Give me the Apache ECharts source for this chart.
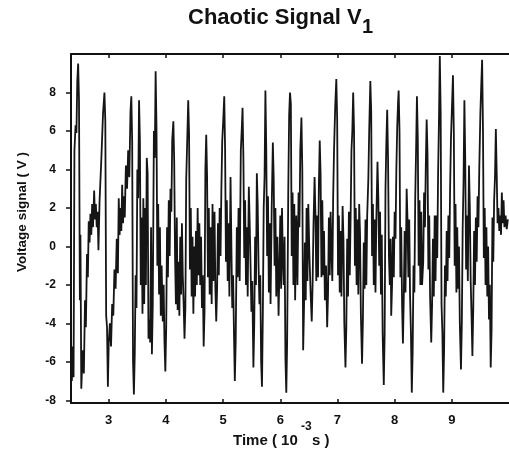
<!DOCTYPE html>
<html>
<head>
<meta charset="utf-8">
<script src="https://cdn.jsdelivr.net/npm/echarts@6/dist/echarts.min.js"></script>
<style>html,body{margin:0;padding:0;background:#fff;}#c{width:509px;height:458px;}</style>
</head>
<body>
<div id="c"></div>
<script>
// Time in units of 10^-3 s
const times = [
2.34,2.355,2.37,2.385,2.40,2.42,2.435,2.45,2.465,2.48,2.495,2.505,2.52,2.545,2.565,2.585,2.60,2.62,2.635,2.65,
2.665,2.68,2.695,2.71,2.725,2.745,2.76,2.775,2.79,2.805,2.82,2.84,2.87,2.90,2.925,2.94,2.955,2.97,2.985,3.00,
3.02,3.04,3.06,3.08,3.10,3.12,3.14,3.16,3.175,3.19,3.205,3.22,3.235,3.25,3.265,3.28,3.30,3.32,3.34,3.36,
3.38,3.395,3.41,3.425,3.44,3.455,3.47,3.485,3.50,3.515,3.53,3.545,3.56,3.575,3.59,3.605,3.62,3.635,3.65,3.665,
3.68,3.695,3.71,3.725,3.74,3.755,3.77,3.79,3.805,3.82,3.835,3.85,3.865,3.88,3.895,3.91,3.925,3.945,3.96,3.975,
3.99,4.005,4.02,4.035,4.05,4.065,4.08,4.095,4.11,4.13,4.145,4.16,4.175,4.19,4.205,4.22,4.235,4.25,4.265,4.28,
4.295,4.31,4.325,4.34,4.355,4.37,4.39,4.405,4.42,4.435,4.45,4.465,4.48,4.495,4.51,4.525,4.54,4.555,4.57,4.585,
4.60,4.615,4.63,4.645,4.66,4.675,4.69,4.705,4.72,4.735,4.75,4.765,4.78,4.80,4.815,4.83,4.85,4.865,4.88,4.895,
4.91,4.925,4.94,4.955,4.97,4.985,5.00,5.02,5.035,5.05,5.065,5.08,5.095,5.11,5.13,5.145,5.16,5.175,5.19,5.205,
5.22,5.24,5.255,5.27,5.29,5.31,5.325,5.34,5.355,5.37,5.385,5.40,5.415,5.43,5.45,5.465,5.48,5.495,5.51,5.53,
5.545,5.56,5.575,5.59,5.605,5.62,5.635,5.65,5.665,5.68,5.695,5.71,5.725,5.74,5.755,5.77,5.785,5.80,5.815,5.83,
5.85,5.87,5.885,5.90,5.915,5.93,5.95,5.97,5.985,6.00,6.015,6.03,6.045,6.06,6.075,6.09,6.105,6.12,6.14,6.155,
6.17,6.185,6.20,6.215,6.23,6.245,6.26,6.28,6.30,6.32,6.335,6.35,6.37,6.385,6.40,6.415,6.43,6.445,6.46,6.475,
6.49,6.51,6.53,6.55,6.565,6.58,6.60,6.615,6.63,6.645,6.66,6.675,6.69,6.705,6.72,6.735,6.75,6.765,6.78,6.80,
6.82,6.835,6.85,6.865,6.88,6.895,6.91,6.925,6.94,6.96,6.98,6.995,7.01,7.025,7.04,7.055,7.07,7.09,7.105,7.12,
7.14,7.155,7.17,7.185,7.20,7.215,7.23,7.245,7.26,7.275,7.29,7.305,7.32,7.335,7.35,7.365,7.38,7.395,7.41,7.43,
7.445,7.46,7.475,7.49,7.505,7.52,7.54,7.555,7.575,7.59,7.605,7.62,7.635,7.65,7.665,7.68,7.70,7.715,7.73,7.745,
7.76,7.775,7.79,7.81,7.825,7.84,7.855,7.87,7.885,7.90,7.915,7.93,7.94,7.955,7.97,7.985,8.00,8.015,8.03,8.045,
8.06,8.07,8.085,8.10,8.115,8.13,8.145,8.16,8.175,8.19,8.21,8.225,8.24,8.255,8.27,8.285,8.30,8.315,8.33,8.345,
8.36,8.375,8.39,8.405,8.42,8.435,8.45,8.465,8.48,8.50,8.515,8.53,8.545,8.56,8.575,8.59,8.605,8.62,8.64,8.655,
8.67,8.685,8.70,8.715,8.73,8.745,8.76,8.775,8.79,8.805,8.82,8.835,8.85,8.865,8.88,8.895,8.91,8.925,8.94,8.955,
8.97,8.985,9.00,9.02,9.035,9.05,9.065,9.08,9.095,9.11,9.125,9.14,9.16,9.175,9.19,9.205,9.22,9.235,9.25,9.265,
9.28,9.30,9.315,9.33,9.345,9.36,9.375,9.39,9.405,9.42,9.435,9.45,9.465,9.48,9.50,9.515,9.53,9.545,9.56,9.575,
9.59,9.605,9.62,9.635,9.65,9.665,9.68,9.695,9.71,9.725,9.74,9.755,9.77,9.785,9.80,9.815,9.83,9.845,9.86,9.875,
9.89,9.905,9.92,9.94,9.96,9.98
];
// Voltage signal (V)
const volts = [
-5.6,-7.0,-5.2,-6.8,5.0,6.3,5.9,8.6,9.5,7.6,-2.8,0.6,-7.4,-5.4,-6.6,-2.8,-4.2,-0.4,-1.6,1.3,
0.2,1.7,0.6,2.2,1.0,2.9,1.4,2.2,1.0,1.8,-0.2,2.4,4.5,6.9,8.0,6.5,-3.6,-4.2,-7.3,-5.0,
-4.0,-5.2,-3.0,-3.6,-1.2,-2.2,0.4,-1.4,2.5,0.6,2.0,0.8,3.2,1.2,2.6,1.5,4.2,3.0,5.0,3.6,
7.0,7.8,5.4,-6.0,-7.7,-5.6,-1.5,-3.2,4.0,2.5,7.6,5.5,-2.0,1.5,-3.5,2.5,-3.0,2.0,-2.0,4.6,
3.8,-4.8,-3.8,-5.0,1.0,-5.6,-3.0,6.0,4.6,9.1,6.2,-1.0,2.2,-2.5,1.0,-3.6,-1.0,-3.9,-2.0,-5.0,
-6.5,-4.2,1.0,-1.6,2.4,-0.5,3.0,1.8,5.5,6.5,4.4,-0.6,-3.0,1.5,-3.3,-0.8,-3.6,0.5,-2.5,1.2,
-1.5,-3.0,-4.8,-3.2,3.5,5.2,7.6,5.8,-1.2,2.0,-2.6,0.5,-3.5,0.0,-2.6,0.8,-2.0,2.0,-1.5,1.2,
-2.0,0.5,-3.2,-1.5,-5.2,-3.4,4.0,5.8,3.6,-1.6,2.0,-2.5,1.0,-3.0,2.2,-1.8,1.8,-2.2,-3.9,-2.2,
1.2,-1.5,2.0,-0.5,3.0,5.5,6.4,7.8,5.0,-0.8,2.4,-1.8,1.2,-2.6,3.6,0.0,-3.2,-1.5,-4.5,-7.0,
-5.0,1.0,-1.6,2.0,-1.8,5.0,6.0,7.2,4.6,-0.6,2.4,-2.0,1.0,-2.6,3.1,1.2,-1.0,-3.4,-1.8,-6.3,
-4.0,0.5,-2.0,3.8,2.2,-1.0,-3.0,-1.5,-6.0,-7.3,-3.5,2.0,3.6,8.1,5.0,-0.5,2.6,-2.4,1.2,-3.0,
2.0,5.4,3.5,-1.0,2.0,-2.6,0.5,-3.6,-1.2,1.6,-2.2,2.0,-0.6,-2.0,0.5,-5.8,-7.6,-5.0,3.0,6.8,
8.0,7.4,-0.5,2.8,-2.0,2.2,-2.8,1.6,-2.0,2.8,1.0,5.0,6.7,4.0,-5.4,-3.2,0.2,-2.8,2.0,-1.8,
2.2,-0.5,-2.4,-3.9,-2.0,1.0,3.6,1.6,-1.8,1.6,-1.6,3.2,5.5,3.8,-1.6,2.4,-1.5,0.8,-2.8,-1.0,
-4.2,-2.5,1.5,-1.5,1.8,-0.2,-1.8,2.6,5.0,7.2,8.7,6.6,-1.5,1.6,-2.4,0.8,-2.6,2.1,0.4,-4.0,
-6.3,-4.2,0.4,-2.6,1.8,-1.5,1.5,5.0,6.0,8.0,6.0,-1.0,2.0,-2.0,1.4,-2.5,2.2,0.6,-3.6,-6.1,
-3.8,0.2,-2.2,1.4,-2.0,1.6,3.5,6.0,8.6,7.0,-0.5,2.2,-2.0,1.4,-2.4,1.4,4.4,2.5,-1.0,1.8,
-2.5,0.6,-4.5,-7.2,-4.6,3.0,5.4,7.1,4.5,-0.5,-2.0,0.4,-3.6,-2.0,0.5,-1.6,1.8,0.4,4.0,6.2,
7.5,8.1,6.0,-1.6,1.0,-3.0,-5.05,-2.6,0.8,-2.4,3.0,1.4,-1.6,1.4,-2.6,-4.5,-7.6,-5.5,-1.0,-2.4,
2.5,5.0,7.8,5.6,-1.0,2.4,-2.0,1.8,-2.0,-0.8,2.8,1.0,4.2,6.6,4.8,-1.2,1.6,-2.6,-5.0,-3.0,
0.4,-2.6,1.6,-1.8,1.6,-0.6,3.8,6.5,9.9,7.0,-3.0,-4.5,-7.6,-5.4,-1.0,-2.6,0.8,-1.8,1.6,-0.6,
3.0,5.6,7.0,8.9,6.0,-1.0,2.2,-2.4,1.0,-2.2,0.0,-4.0,-6.4,-4.0,1.0,3.4,7.6,4.4,-1.2,1.6,
-1.8,4.2,2.0,-1.8,-3.6,-5.7,-3.2,0.8,-2.0,1.5,-0.8,2.6,1.0,4.0,7.0,8.4,9.7,6.0,-0.6,2.0,
-2.0,1.0,-2.6,0.0,-3.8,-2.0,-6.3,-4.4,1.5,-0.8,2.4,3.6,6.1,3.8,1.2,2.0,0.8,1.6,0.6,2.8,
1.2,2.4,1.0,1.6,0.9,1.4
];
const xTicks = [3,4,5,6,7,8,9];
const yTicks = [-8,-6,-4,-2,0,2,4,6,8];

const seriesData = times.map((t,i)=>[t, volts[i]]);
const FONT = '"Liberation Sans", Arial, Helvetica, sans-serif';
const chart = echarts.init(document.getElementById('c'), null, {renderer:'canvas'});
chart.setOption({
  backgroundColor:'#fff',
  animation:false,
  grid:{left:71, right:-6, top:54, bottom:55, containLabel:false},
  xAxis:[{
    type:'value', min:2.34, max:10, position:'bottom',
    axisLine:{show:true, onZero:false, lineStyle:{color:'#111', width:2}},
    axisTick:{show:true, inside:true, length:4, customValues:xTicks, lineStyle:{color:'#111', width:1.5}},
    axisLabel:{show:true, customValues:xTicks, margin:11, color:'#111', fontFamily:FONT, fontWeight:'bold', fontSize:13},
    splitLine:{show:false}
  },{
    type:'value', min:2.34, max:10, position:'top',
    axisLine:{show:true, onZero:false, lineStyle:{color:'#111', width:2}},
    axisTick:{show:true, inside:true, length:4, customValues:xTicks, lineStyle:{color:'#111', width:1.5}},
    axisLabel:{show:false},
    splitLine:{show:false}
  }],
  yAxis:{
    type:'value', min:-8.14, max:10,
    axisLine:{show:true, onZero:false, lineStyle:{color:'#111', width:2}},
    axisTick:{show:true, inside:false, length:5, customValues:yTicks, lineStyle:{color:'#111', width:1.5}},
    axisLabel:{show:true, customValues:yTicks, margin:15, color:'#111', fontFamily:FONT, fontWeight:'bold', fontSize:12},
    splitLine:{show:false}
  },
  series:[{
    type:'line', xAxisIndex:0, data:seriesData, showSymbol:false, symbol:'none',
    lineStyle:{color:'#151515', width:1.8}, clip:true
  }],
  graphic:[
    {type:'text', left:188, top:7, style:{text:'Chaotic Signal V', font:'bold 22px '+FONT, fill:'#111'}},
    {type:'text', left:362, top:17, style:{text:'1', font:'bold 20px '+FONT, fill:'#111'}},
    {type:'text', left:233, top:433, style:{text:'Time ( 10', font:'bold 15px '+FONT, fill:'#111'}},
    {type:'text', left:301, top:421, style:{text:'-3', font:'bold 12px '+FONT, fill:'#111'}},
    {type:'text', left:312, top:433, style:{text:'s )', font:'bold 15px '+FONT, fill:'#111'}},
    {type:'text', x:22, y:212, rotation:Math.PI/2, style:{text:'Voltage signal ( V )', font:'bold 13.5px '+FONT, fill:'#111', align:'center', verticalAlign:'middle'}}
  ]
});
</script>
</body>
</html>
